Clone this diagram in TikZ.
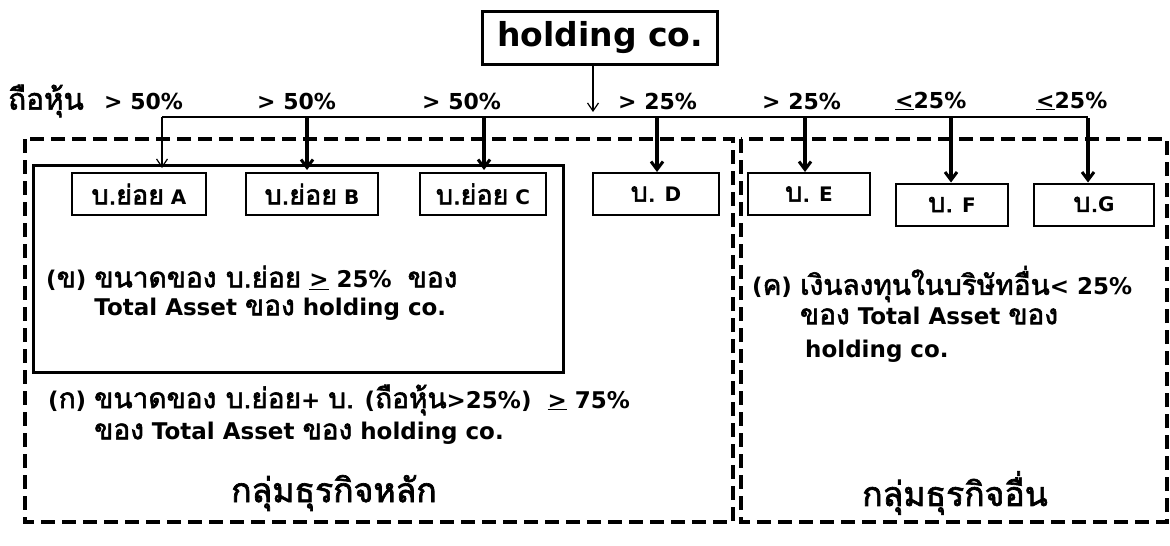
\documentclass[tikz,border=0pt]{standalone}
\usepackage{fontspec}
\setmainfont{DejaVu Sans}
\newfontfamily\thai[Script=Thai,Scale=1.35,AutoFakeBold=2]{Loma}
\newfontfamily\thaibody[Script=Thai,Scale=1.22,AutoFakeBold=2]{Loma}
\usetikzlibrary{arrows.meta}
\newcommand{\T}[1]{{\thai #1}}
\newcommand{\B}[1]{{\thaibody #1}}
\tikzset{
  company/.style={draw, line width=2pt, minimum height=42pt, inner sep=0pt, font=\fontsize{20}{24}\selectfont\bfseries},
  grp/.style={line width=4pt, dash pattern=on 14pt off 7pt},
  lbl/.style={anchor=west, inner sep=0pt, font=\fontsize{22}{26}\selectfont\bfseries},
  body/.style={anchor=west, inner sep=0pt, font=\fontsize{23}{27}\selectfont\bfseries},
  title/.style={inner sep=0pt, font=\fontsize{25}{30}\selectfont\bfseries},
  thinarr/.style={line width=1.2pt, -{Straight Barb[length=8pt,width=11pt,line width=1.2pt]}},
  thickarr/.style={line width=3.5pt, -{Straight Barb[length=8pt,width=12pt,line width=3pt]}},
  bar/.style={line width=2pt}
}
\begin{document}
\begin{tikzpicture}[x=1pt,y=-1pt]
\useasboundingbox (0,0) rectangle (1170,546);
% holding
\node[draw, line width=3pt, minimum width=235pt, minimum height=53pt, inner sep=0pt, font=\fontsize{33}{38}\selectfont\bfseries] (hold) at (600,37.5) {holding co.};
% labels row
\node[lbl] (lh) at (8,101) {\T{ถือหุ้น}};
\node[lbl] (l1) at (104,101) {> 50\%};
\node[lbl] (l2) at (257,101) {> 50\%};
\node[lbl] (l3) at (422,101) {> 50\%};
\node[lbl] (l4) at (618,101) {> 25\%};
\node[lbl] (l5) at (762,101) {> 25\%};
\node[lbl] (l6) at (895,101) {\underline{<}25\%};
\node[lbl] (l7) at (1036,101) {\underline{<}25\%};
% group boxes
\draw[grp] (25,139) rectangle (733,522);
\draw[grp] (741,139) rectangle (1167,522);
% inner solid box
\draw[line width=3pt] (33,165) rectangle (563,372);
% companies
\node[company, minimum width=134pt] (A) at (139,194) {\T{บ.ย่อย} A};
\node[company, minimum width=132pt] (B) at (312,194) {\T{บ.ย่อย} B};
\node[company, minimum width=126pt] (C) at (483,194) {\T{บ.ย่อย} C};
\node[company, minimum width=126pt] (D) at (656,194) {\T{บ.} D};
\node[company, minimum width=122pt] (E) at (809,194) {\T{บ.} E};
\node[company, minimum width=112pt] (F) at (952,204.5) {\T{บ.} F};
\node[company, minimum width=120pt] (G) at (1094,204.5) {\T{บ.}G};
% junctions
\coordinate (jA) at (162,117);
\coordinate (jB) at (307,117);
\coordinate (jC) at (484,117);
\coordinate (jD) at (657,117);
\coordinate (jE) at (805,117);
\coordinate (jF) at (951,117);
\coordinate (jG) at (1088,117);
\coordinate (hEnd) at (593,112);
\draw[thinarr] (hold.south -| hEnd) -- (hEnd);
\draw[bar] (jA) -- (jG);
\draw[thinarr] (jA) -- (162,168);
\draw[thickarr] ([yshift=-1pt]jB) -- (307,170);
\draw[thickarr] ([yshift=-1pt]jC) -- (484,170);
\draw[thickarr] ([yshift=-1pt]jD) -- (jD |- D.north);
\draw[thickarr] ([yshift=-1pt]jE) -- (jE |- E.north);
\draw[thickarr] ([yshift=-1pt]jF) -- (jF |- F.north);
\draw[thickarr] ([yshift=-1pt]jG) -- (jG |- G.north);
% texts
\node[body] (b1) at (46,278) {(\B{ข}) \B{ขนาดของ บ.ย่อย} \underline{>} 25\%\ \ \B{ของ}};
\node[body] (b2) at (46,309) {\phantom{(\B{ข}) }Total Asset \B{ของ} holding co.};
\node[body] (a1) at (48,400) {(\B{ก}) \B{ขนาดของ บ.ย่อย}+ \B{บ.} (\B{ถือหุ้น}>25\%)\ \ \underline{>} 75\%};
\node[body] (a2) at (48,433) {\phantom{(\B{ก}) }\B{ของ} Total Asset \B{ของ} holding co.};
\node[title] (t1) at (334,493) {\T{กลุ่มธุรกิจหลัก}};
\node[body] (c1) at (752,284) {(\B{ค}) \B{เงินลงทุนในบริษัทอื่น}< 25\%};
\node[body] (c2) at (752,317) {\phantom{(\B{ค}) }\B{ของ} Total Asset \B{ของ}};
\node[body] (c3) at (805,351) {holding co.};
\node[title] (t2) at (955,493) {\T{กลุ่มธุรกิจอื่น}};
\end{tikzpicture}
\end{document}
